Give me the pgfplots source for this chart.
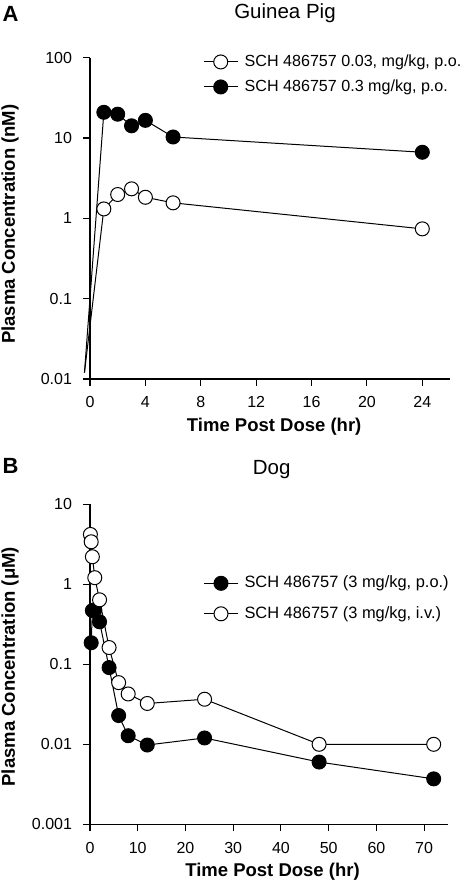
\documentclass[border=0pt]{standalone}
\usepackage{pgfplots}
\pgfplotsset{compat=1.18}
\usepackage{fontspec}
\setmainfont{Liberation Sans}
\begin{document}
\begin{tikzpicture}
\useasboundingbox (0pt,0pt) rectangle (465pt,-882pt);
\pgfplotsset{
  every axis/.append style={
    scale only axis,
    ymode=log,
    axis x line*=bottom,
    axis y line*=left,
    axis line style={line width=1.1pt, black, -},
    tick style={line width=1.1pt, black},
    major tick length=7pt,
    tick align=outside,
    yminorticks=false,
    clip=false,
    ticklabel style={font=\fontsize{16}{19}\selectfont},
    yticklabel style={xshift=-7.5pt},
    xticklabel style={yshift=-7pt},
    legend cell align=left,
    legend image code/.code={
      \draw[mark indices={2}] plot coordinates {(0pt,0pt) (17pt,0pt) (34pt,0pt)};
    },
  },
  open/.style={black, line width=1pt, mark=*, mark size=7pt, mark options={fill=white, line width=1pt}},
  filled/.style={black, line width=1pt, mark=*, mark size=7pt, mark options={fill=black, line width=1pt}},
}
% Panel A
\begin{axis}[
  at={(90pt,-379pt)}, anchor=south west,
  width=360pt, height=321.3pt,
  xmin=0, xmax=26, ymin=0.01, ymax=100,
  xtick={0,4,8,12,16,20,24}, xticklabels={0,4,8,12,16,20,24},
  ytick={0.01,0.1,1,10,100}, yticklabels={0.01,0.1,1,10,100},
  legend style={at={(0.314,1.0115)}, anchor=north west, draw=none, fill=none,
    inner sep=0pt, nodes={inner sep=0pt, text height=12pt, text depth=3.5pt},
    column sep=6.5pt, row sep=9.5pt, font=\fontsize{16.1}{19}\selectfont},
]
\addplot[open, mark indices={2,3,4,5,6,7}] coordinates {(-0.4,0.012)(1,1.31)(2,1.98)(3,2.33)(4,1.83)(6,1.56)(24,0.74)};
\addlegendentry{SCH 486757 0.03, mg/kg, p.o.}
\addplot[filled, mark indices={2,3,4,5,6,7}] coordinates {(-0.4,0.012)(1,20.9)(2,19.8)(3,14.2)(4,16.6)(6,10.3)(24,6.65)};
\addlegendentry{SCH 486757 0.3 mg/kg, p.o.}
\end{axis}
% Panel B
\begin{axis}[
  at={(90pt,-824.3pt)}, anchor=south west,
  width=358pt, height=320pt,
  xmin=0, xmax=75, ymin=0.001, ymax=10,
  xtick={0,10,20,30,40,50,60,70}, xticklabels={0,10,20,30,40,50,60,70},
  ytick={0.001,0.01,0.1,1,10}, yticklabels={0.001,0.01,0.1,1,10},
  legend style={at={(0.3165,0.778)}, anchor=north west, draw=none, fill=none,
    inner sep=0pt, nodes={inner sep=0pt, text height=12pt, text depth=3.5pt},
    column sep=6pt, row sep=15pt, font=\fontsize{16.4}{19}\selectfont},
]
\addplot[filled] coordinates {(0.25,0.186)(0.5,0.47)(1,0.48)(2,0.34)(4,0.091)(6,0.0229)(8,0.0128)(12,0.0098)(24,0.0120)(48,0.0060)(72,0.0037)};
\addlegendentry{SCH 486757 (3 mg/kg, p.o.)}
\addplot[open] coordinates {(0.083,4.2)(0.25,3.4)(0.5,2.21)(1,1.21)(2,0.64)(4,0.162)(6,0.059)(8,0.0426)(12,0.0324)(24,0.0366)(48,0.010)(72,0.010)};
\addlegendentry{SCH 486757 (3 mg/kg, i.v.)}
\end{axis}
% titles and labels
\node[font=\fontsize{22}{26}\bfseries\selectfont, anchor=west] at (-1pt,-13.5pt) {A};
\node[font=\fontsize{22}{26}\bfseries\selectfont, anchor=west] at (-1pt,-466pt) {B};
\node[font=\fontsize{20.5}{24}\selectfont] at (285pt,-13pt) {Guinea Pig};
\node[font=\fontsize{20.5}{24}\selectfont] at (271.7pt,-469.7pt) {Dog};
\node[font=\fontsize{18.5}{22}\bfseries\selectfont] at (274.2pt,-426.3pt) {Time Post Dose (hr)};
\node[font=\fontsize{18.5}{22}\bfseries\selectfont] at (272.5pt,-872pt) {Time Post Dose (hr)};
\node[font=\fontsize{18.5}{22}\bfseries\selectfont, rotate=90] at (10pt,-224.2pt) {Plasma Concentration (nM)};
\node[font=\fontsize{18.5}{22}\bfseries\selectfont, rotate=90] at (10pt,-666.7pt) {Plasma Concentration (μM)};
\end{tikzpicture}
\end{document}
